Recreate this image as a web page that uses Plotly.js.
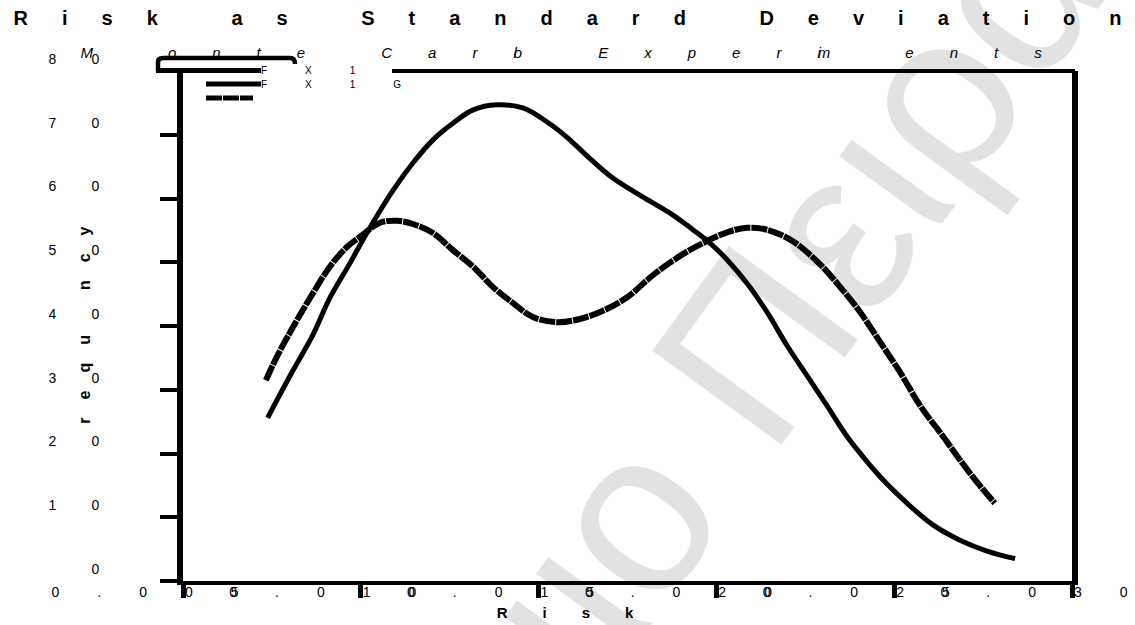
<!DOCTYPE html>
<html><head><meta charset="utf-8">
<script src="https://cdn.plot.ly/plotly-3.0.1.min.js"></script>
<style>
html,body{margin:0;padding:0;background:#fff;}
#chart{width:1135px;height:625px;}
.gtitle{letter-spacing:34px;}
.gtitle-subtitle{letter-spacing:36px;}
.xtick text{letter-spacing:38px;}
.ytick text{letter-spacing:35px;}
.xtitle{letter-spacing:35px;}
.ytitle{letter-spacing:18px;}
.annotation-text{letter-spacing:38px;}
</style></head>
<body><div id="chart"></div>
<script>
// ---- data ----
const riskSolid = [0.00738,0.00801,0.00866,0.00913,0.0097,0.01017,0.01091,0.01147,0.01203,0.01259,0.01316,0.01383,0.01456,0.01524,0.0158,0.01636,0.01709,0.01794,0.01878,0.01934,0.01982,0.0203,0.02086,0.02142,0.02199,0.02255,0.02311,0.02367,0.02424,0.0248,0.02536,0.02609,0.02685,0.02761,0.0284];
const freqSolid = [25.6,32.2,38.7,44.4,49.9,54.6,61.3,65.6,69.2,71.8,73.9,74.7,74.2,72.0,69.6,66.7,63.2,60.2,57.4,55.1,53.0,50.4,46.7,42.2,36.9,32.2,27.5,22.7,18.7,15.2,12.2,8.8,6.4,4.7,3.5];
const riskDashed = [0.00733,0.00767,0.00809,0.00866,0.00913,0.00961,0.00998,0.01054,0.01102,0.01147,0.01203,0.01259,0.01316,0.01372,0.01428,0.01484,0.01552,0.01616,0.01681,0.01749,0.01822,0.01898,0.01962,0.0203,0.02086,0.02142,0.02215,0.02291,0.02356,0.02404,0.0246,0.02516,0.02573,0.02637,0.02713,0.02783];
const freqDashed = [31.5,35.5,39.8,45.2,49.3,52.4,54.0,56.2,56.5,56.0,54.6,51.9,49.3,46.1,43.6,41.4,40.6,41.1,42.4,44.5,48.0,51.0,53.0,54.7,55.4,55.1,53.3,49.7,45.6,42.2,37.5,32.8,27.5,22.7,16.9,12.2];
const xTickVals = [0.005,0.010,0.015,0.020,0.025,0.030];
const yTickVals = [0,10,20,30,40,50,60,70,80];
const legendNames = ['FX1','FX1G'];
const titleText = 'Risk as Standard Deviation';
const subtitleText = '<span style="letter-spacing:75px">M</span>onte Car<span style="letter-spacing:-3px">l</span>o Exper<span style="letter-spacing:-3px">i</span><span style="letter-spacing:75px">m</span>ent<span style="letter-spacing:47px">s</span>';
const xTitle = 'Risk';
const yTitle = '<span style="color:rgba(0,0,0,0)">F</span>requ<span style="color:rgba(0,0,0,0)">e</span>ncy';
const watermark = 'Πανεπιστήμιο Πειραιώς';

// ---- layout helpers (pixel -> paper) ----
const L = 183, R = 63, T = 71, B = 44, W = 1135, H = 625;
const pw = W - L - R, ph = H - T - B;
const px = p => (p - L) / pw;
const py = p => (H - B - p) / ph;
const FONT = 'Liberation Sans, Arial, sans-serif';
const DASH = '16px,1px';
const Y_TITLE_X = 84, Y_TITLE_DY = 4;
const X_TITLE_DX = -45, X_TITLE_DY = -4;

const traces = [
  {x: riskSolid, y: freqSolid, type: 'scatter', mode: 'lines', name: legendNames[0],
   line: {color: '#000', width: 5, shape: 'spline', smoothing: 1}},
  {x: riskDashed, y: freqDashed, type: 'scatter', mode: 'lines', name: legendNames[1],
   line: {color: '#000', width: 6, shape: 'spline', smoothing: 1, dash: DASH}}
];

const bracket = 'M ' + px(158) + ',' + py(71) + ' L ' + px(158) + ',' + py(62) +
  ' Q ' + px(158) + ',' + py(58) + ' ' + px(163) + ',' + py(58) +
  ' L ' + px(290) + ',' + py(58) + ' Q ' + px(295) + ',' + py(58) + ' ' + px(295) + ',' + py(64);

const shapes = [
  {type: 'rect', xref: 'paper', yref: 'paper', layer: 'below',
   x0: px(527), x1: px(529), y0: py(618), y1: py(620),
   line: {width: 0}, fillcolor: 'rgba(0,0,0,0)',
   label: {text: watermark, textangle: -54, textposition: 'middle center',
           font: {family: FONT, size: 232, color: '#e2e2e2'}}},
  {type: 'path', xref: 'paper', yref: 'paper', path: bracket, line: {color: '#000', width: 4.5}},
  {type: 'line', xref: 'paper', yref: 'paper', x0: px(392), x1: px(1075), y0: py(71), y1: py(71),
   line: {color: '#000', width: 4}},
  {type: 'line', xref: 'paper', yref: 'paper', x0: px(156), x1: px(261), y0: py(70.5), y1: py(70.5),
   line: {color: '#000', width: 5}},
  {type: 'line', xref: 'paper', yref: 'paper', x0: px(206), x1: px(261), y0: py(84), y1: py(84),
   line: {color: '#000', width: 5}},
  {type: 'line', xref: 'paper', yref: 'paper', x0: px(206), x1: px(253), y0: py(98), y1: py(98),
   line: {color: '#000', width: 5, dash: DASH}}
];

const annotations = [
  {text: legendNames[0], xref: 'paper', yref: 'paper', x: px(259), y: py(70), xanchor: 'left', yanchor: 'middle',
   showarrow: false, font: {family: FONT, size: 10, color: '#000'}},
  {text: legendNames[1], xref: 'paper', yref: 'paper', x: px(259), y: py(84), xanchor: 'left', yanchor: 'middle',
   showarrow: false, font: {family: FONT, size: 10, color: '#000'}}
];

const layout = {
  width: W, height: H,
  margin: {l: L, r: R, t: T, b: B},
  paper_bgcolor: '#fff', plot_bgcolor: '#fff',
  showlegend: false,
  font: {family: FONT, color: '#000'},
  title: {text: titleText, x: 0.515, xref: 'container', xanchor: 'center',
          y: 1 - 18 / H, yref: 'container', yanchor: 'middle',
          font: {family: FONT, size: 20, weight: 700, color: '#000'},
          subtitle: {text: subtitleText, font: {family: FONT, size: 15, style: 'italic', color: '#000'}}},
  xaxis: {range: [0.005, 0.030], tickvals: xTickVals, tickformat: '.3f', tickangle: 0,
          ticks: 'outside', ticklen: 13, tickwidth: 5, tickcolor: '#000',
          showline: true, linewidth: 4, linecolor: '#000', mirror: false,
          showgrid: false, zeroline: false, ticklabeloverflow: 'allow',
          ticklabelshift: -19, ticklabelstandoff: -18,
          tickfont: {family: FONT, size: 14, color: '#000'},
          title: {text: xTitle, font: {family: FONT, size: 15, weight: 700, color: '#000'}}},
  yaxis: {range: [0, 80], tickvals: yTickVals, ticks: 'outside', ticklen: 17, tickwidth: 4, tickcolor: '#000',
          showline: true, linewidth: 6, linecolor: '#000', mirror: true,
          showgrid: false, zeroline: false, ticklabeloverflow: 'allow',
          ticklabelshift: -12, ticklabelstandoff: 23,
          tickfont: {family: FONT, size: 14, color: '#000'},
          title: {text: yTitle, font: {family: FONT, size: 16, weight: 700, color: '#000'}}},
  shapes: shapes,
  annotations: annotations
};

Plotly.newPlot('chart', traces, layout, {staticPlot: true, displayModeBar: false}).then(function () {
  // axis titles sit off-centre over the spaced-out tick labels, as in the reference
  const yt = document.querySelector('.ytitle');
  if (yt) {
    const b = yt.getBoundingClientRect();
    const dx = Y_TITLE_X - (b.left + b.width / 2);
    yt.style.translate = dx.toFixed(1) + 'px ' + Y_TITLE_DY + 'px';
  }
  const xt = document.querySelector('.xtitle');
  if (xt) xt.style.translate = X_TITLE_DX + 'px ' + X_TITLE_DY + 'px';
});
</script>
</body></html>
